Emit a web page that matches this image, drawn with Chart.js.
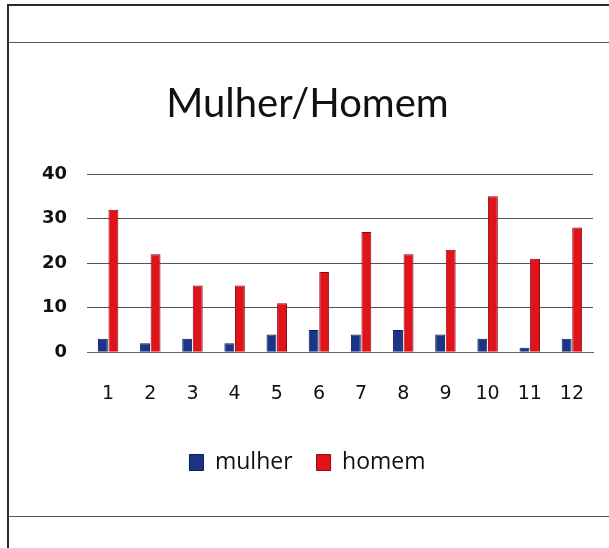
<!DOCTYPE html>
<html>
<head>
<meta charset="utf-8">
<script src="https://cdn.jsdelivr.net/npm/chart.js@4/dist/chart.umd.min.js"></script>
<style>
  html, body { margin: 0; padding: 0; background: #fff; }
  body { width: 609px; height: 548px; position: relative; overflow: hidden; }
  #moldura { position: absolute; left: 7px; top: 4px; width: 620px; height: 600px; border: 2px solid #2a2a2a; box-sizing: border-box; }
  .linha { position: absolute; left: 9px; width: 600px; height: 1px; background: #555; }
  #grafico { position: absolute; left: 0; top: 0; }
</style>
</head>
<body>
<div id="moldura"></div>
<div class="linha" style="top:42px"></div>
<div class="linha" style="top:516px"></div>
<canvas id="grafico" width="609" height="548"></canvas>
<script>
const categorias = ['1', '2', '3', '4', '5', '6', '7', '8', '9', '10', '11', '12'];
const mulher = [3, 2, 3, 2, 4, 5, 4, 5, 4, 3, 1, 3];
const homem = [32, 22, 15, 15, 11, 18, 27, 22, 23, 35, 21, 28];
const ticksY = [0, 10, 20, 30, 40];

const ctx = document.getElementById('grafico').getContext('2d');

new Chart(ctx, {
    type: 'bar',
    data: {
        labels: categorias,
        datasets: [
            {
                label: 'mulher',
                data: mulher,
                backgroundColor: '#1a3488',
                borderColor: '#0d1a55',
                borderWidth: 1,
                barPercentage: 0.94,
                categoryPercentage: 0.5
            },
            {
                label: 'homem',
                data: homem,
                backgroundColor: '#e0121a',
                borderColor: '#8a0a10',
                borderWidth: 1,
                barPercentage: 0.94,
                categoryPercentage: 0.5
            }
        ]
    },
    options: {
        responsive: false,
        animation: false,
        layout: { padding: { left: 22, right: 16, top: 80, bottom: 64 } },
        plugins: {
            title: {
                display: true,
                text: 'Mulher/Homem',
                color: '#111',
                font: { family: 'Lato', size: 40, weight: 'normal' },
                padding: { top: 0, bottom: 46 }
            },
            legend: {
                position: 'bottom',
                labels: {
                    color: '#111',
                    font: { family: 'Open Sans', size: 23 },
                    boxWidth: 14,
                    boxHeight: 16,
                    padding: 24
                }
            },
            tooltip: { enabled: false }
        },
        scales: {
            x: {
                grid: { display: false },
                border: { display: true, color: '#666' },
                ticks: {
                    color: '#111',
                    font: { family: 'DejaVu Sans', size: 19 },
                    padding: 22
                }
            },
            y: {
                min: 0,
                max: 40,
                afterBuildTicks: axis => { axis.ticks = ticksY.map(v => ({ value: v })); },
                grid: { color: '#555', drawTicks: false },
                border: { display: false },
                ticks: {
                    color: '#111',
                    font: { family: 'DejaVu Sans', size: 18, weight: 'bold' },
                    padding: 20
                }
            }
        }
    }
});
</script>
</body>
</html>
